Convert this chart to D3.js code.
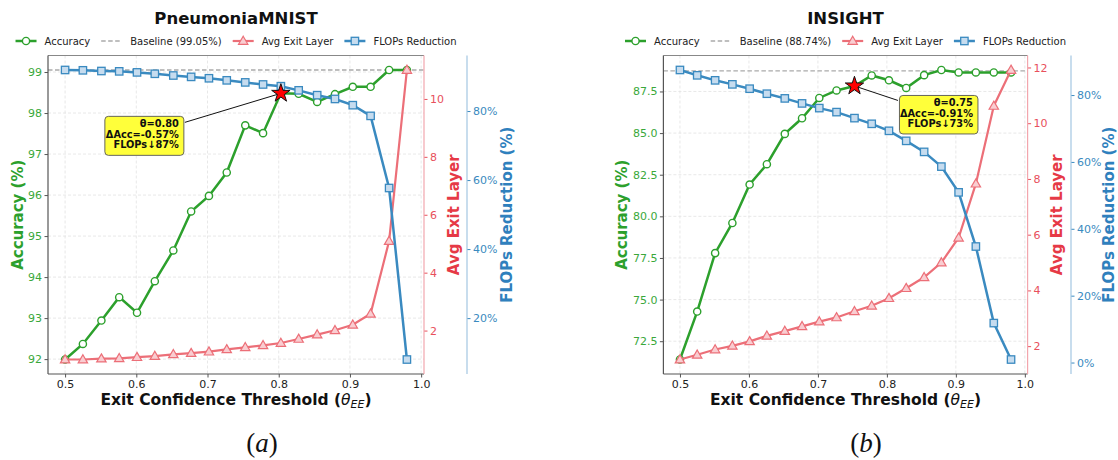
<!DOCTYPE html>
<html lang="en">
<head>
<meta charset="utf-8">
<title>Early exit threshold sweep</title>
<script src="https://cdn.jsdelivr.net/npm/d3@7"></script>
<style>
  body { margin: 0; background: #fff; }
  svg { display: block; font-family: "DejaVu Sans", sans-serif; }
</style>
</head>
<body>
<script>
// exit confidence thresholds (20 points, 0.5 .. 0.98)
var thresholds = [0.5, 0.525, 0.551, 0.576, 0.601, 0.626, 0.652, 0.677, 0.702, 0.727,
                  0.753, 0.778, 0.803, 0.828, 0.854, 0.879, 0.904, 0.929, 0.955, 0.98];

// PneumoniaMNIST
var pneuAcc   = [91.99, 92.37, 92.94, 93.51, 93.13, 93.90, 94.65, 95.60, 95.98, 96.55,
                 97.70, 97.51, 98.48, 98.47, 98.27, 98.46, 98.64, 98.64, 99.05, 99.05];
var pneuExit  = [1.00, 1.00, 1.03, 1.04, 1.08, 1.12, 1.18, 1.22, 1.27, 1.35,
                 1.42, 1.49, 1.57, 1.71, 1.86, 2.01, 2.20, 2.58, 5.09, 11.0];
var pneuFlops = [91.9, 91.8, 91.6, 91.5, 91.2, 90.8, 90.3, 89.9, 89.5, 88.9,
                 88.3, 87.7, 87.2, 86.0, 84.6, 83.5, 81.7, 78.6, 57.7, 8.0];
var pneuBaseline = 99.05;

// INSIGHT
var insAcc   = [71.40, 74.28, 77.79, 79.60, 81.91, 83.13, 84.95, 85.89, 87.11, 87.56,
                87.83, 88.46, 88.17, 87.71, 88.48, 88.79, 88.64, 88.64, 88.64, 88.64];
var insExit  = [1.52, 1.69, 1.88, 2.01, 2.17, 2.37, 2.54, 2.71, 2.88, 3.03,
                3.25, 3.45, 3.72, 4.08, 4.47, 5.00, 5.89, 7.83, 10.62, 11.91];
var insFlops = [87.5, 85.9, 84.4, 83.2, 81.9, 80.4, 79.0, 77.5, 76.1, 74.9,
                73.1, 71.4, 69.3, 66.3, 63.0, 58.6, 50.9, 34.7, 11.8, 0.9];
var insBaseline = 88.74;

// tick labels
var xTicks = [0.5, 0.6, 0.7, 0.8, 0.9, 1.0];
var pneuAccTicks = [92, 93, 94, 95, 96, 97, 98, 99];
var pneuExitTicks = [2, 4, 6, 8, 10];
var pneuFlopsTicks = [20, 40, 60, 80];
var insAccTicks = [72.5, 75.0, 77.5, 80.0, 82.5, 85.0, 87.5];
var insExitTicks = [2, 4, 6, 8, 10, 12];
var insFlopsTicks = [0, 20, 40, 60, 80];

var legendNames = ["Accuracy", "Baseline", "Avg Exit Layer", "FLOPs Reduction"];

var green = "#2ca02c", red = "#ec6f78", redDark = "#e63946", blue = "#3a8ac0";

var W = 1118, H = 460;
var svg = d3.select("body").append("svg").attr("width", W).attr("height", H);

// matplotlib style 5% margins
function padded(vals) {
  var lo = d3.min(vals), hi = d3.max(vals), m = (hi - lo) * 0.05;
  return [lo - m, hi + m];
}

function drawPanel(cfg) {
  var top = 55.5, bottom = 374;
  var g = svg.append("g");

  var x = d3.scaleLinear().domain(padded(thresholds)).range([cfg.left, cfg.right]);
  var yAcc = d3.scaleLinear().domain(padded(cfg.acc)).range([bottom, top]);
  var yExit = d3.scaleLinear().domain(padded(cfg.exit)).range([bottom, top]);
  var yFlops = d3.scaleLinear().domain(padded(cfg.flops)).range([bottom, top]);

  var pts = thresholds.map(function(t, i) {
    return { t: t, acc: cfg.acc[i], exit: cfg.exit[i], flops: cfg.flops[i] };
  });

  // grid
  g.selectAll(".gx").data(xTicks).enter().append("line")
    .attr("x1", function(d) { return x(d); }).attr("x2", function(d) { return x(d); })
    .attr("y1", top).attr("y2", bottom)
    .attr("stroke", "#e2e2e2").attr("stroke-width", 0.8).attr("stroke-dasharray", "3,2");
  g.selectAll(".gy").data(cfg.accTicks).enter().append("line")
    .attr("x1", cfg.left).attr("x2", cfg.right)
    .attr("y1", function(d) { return yAcc(d); }).attr("y2", function(d) { return yAcc(d); })
    .attr("stroke", "#e2e2e2").attr("stroke-width", 0.8).attr("stroke-dasharray", "3,2");

  // baseline
  g.append("line")
    .attr("x1", cfg.left).attr("x2", cfg.right)
    .attr("y1", yAcc(cfg.baseline)).attr("y2", yAcc(cfg.baseline))
    .attr("stroke", "#aaaaaa").attr("stroke-width", 1.3).attr("stroke-dasharray", "4.5,2.5");

  // accuracy
  g.append("path").datum(pts)
    .attr("fill", "none").attr("stroke", green).attr("stroke-width", 2.5)
    .attr("d", d3.line().x(function(d) { return x(d.t); }).y(function(d) { return yAcc(d.acc); }));
  g.selectAll(".mAcc").data(pts).enter().append("circle")
    .attr("cx", function(d) { return x(d.t); }).attr("cy", function(d) { return yAcc(d.acc); })
    .attr("r", 3.6).attr("fill", "#fff").attr("stroke", green).attr("stroke-width", 1.4);

  // avg exit layer
  var tri = d3.symbol().type(d3.symbolTriangle).size(38);
  g.append("path").datum(pts)
    .attr("fill", "none").attr("stroke", red).attr("stroke-width", 2.2)
    .attr("d", d3.line().x(function(d) { return x(d.t); }).y(function(d) { return yExit(d.exit); }));
  g.selectAll(".mExit").data(pts).enter().append("path")
    .attr("d", tri)
    .attr("transform", function(d) { return "translate(" + x(d.t) + "," + (yExit(d.exit) + 0.6) + ")"; })
    .attr("fill", "#f9cdd1").attr("stroke", red).attr("stroke-width", 1.2);

  // flops reduction
  g.append("path").datum(pts)
    .attr("fill", "none").attr("stroke", blue).attr("stroke-width", 2.5)
    .attr("d", d3.line().x(function(d) { return x(d.t); }).y(function(d) { return yFlops(d.flops); }));
  g.selectAll(".mFlops").data(pts).enter().append("rect")
    .attr("x", function(d) { return x(d.t) - 3.7; }).attr("y", function(d) { return yFlops(d.flops) - 3.7; })
    .attr("width", 7.4).attr("height", 7.4)
    .attr("fill", "#c6dcef").attr("stroke", blue).attr("stroke-width", 1.3);

  // axes
  var ax = g.append("g").attr("transform", "translate(0," + bottom + ")")
    .call(d3.axisBottom(x).tickValues(xTicks).tickFormat(d3.format(".1f")).tickSize(3.5).tickPadding(2.5).tickSizeOuter(0));
  ax.select(".domain").remove();
  ax.selectAll("line").attr("stroke", "#555");
  ax.selectAll("text").attr("font-size", "11px").attr("fill", "#222").attr("font-family", "DejaVu Sans");

  var ayA = g.append("g").attr("transform", "translate(" + cfg.left + ",0)")
    .call(d3.axisLeft(yAcc).tickValues(cfg.accTicks).tickFormat(d3.format(cfg.accFmt)).tickSize(3.5).tickPadding(2.5).tickSizeOuter(0));
  ayA.select(".domain").remove();
  ayA.selectAll("line").attr("stroke", "#555");
  ayA.selectAll("text").attr("font-size", "11px").attr("fill", "#3aa83a").attr("font-family", "DejaVu Sans");

  var ayE = g.append("g").attr("transform", "translate(" + cfg.right + ",0)")
    .call(d3.axisRight(yExit).tickValues(cfg.exitTicks).tickSize(3.5).tickPadding(2.5).tickSizeOuter(0));
  ayE.select(".domain").remove();
  ayE.selectAll("line").attr("stroke", "#e8505c");
  ayE.selectAll("text").attr("font-size", "11px").attr("fill", "#e8505c").attr("font-family", "DejaVu Sans");

  var ayF = g.append("g").attr("transform", "translate(" + cfg.flopsX + ",0)")
    .call(d3.axisRight(yFlops).tickValues(cfg.flopsTicks).tickFormat(function(d) { return d + "%"; })
      .tickSize(3.5).tickPadding(2.5).tickSizeOuter(0));
  ayF.select(".domain").remove();
  ayF.selectAll("line").attr("stroke", blue);
  ayF.selectAll("text").attr("font-size", "11px").attr("fill", blue).attr("font-family", "DejaVu Sans");

  // spines
  g.append("line").attr("x1", cfg.left).attr("x2", cfg.right).attr("y1", top).attr("y2", top)
    .attr("stroke", "#888").attr("stroke-width", 1.2);
  g.append("line").attr("x1", cfg.left).attr("x2", cfg.right).attr("y1", bottom).attr("y2", bottom)
    .attr("stroke", "#555").attr("stroke-width", 1.2);
  g.append("line").attr("x1", cfg.left).attr("x2", cfg.left).attr("y1", top).attr("y2", bottom)
    .attr("stroke", "#555").attr("stroke-width", 1.2);
  g.append("line").attr("x1", cfg.right).attr("x2", cfg.right).attr("y1", top).attr("y2", bottom)
    .attr("stroke", "#f2a6ad").attr("stroke-width", 1.2);
  g.append("line").attr("x1", cfg.flopsX).attr("x2", cfg.flopsX).attr("y1", top).attr("y2", bottom)
    .attr("stroke", "#a3c6e2").attr("stroke-width", 1.2);

  // axis labels
  var midY = (top + bottom) / 2;
  g.append("text").attr("transform", "translate(" + cfg.accLabelX + "," + midY + ") rotate(-90)")
    .attr("text-anchor", "middle").attr("dy", "0.36em")
    .attr("font-size", "15px").attr("font-weight", "bold").attr("fill", green).text("Accuracy (%)");
  g.append("text").attr("transform", "translate(" + cfg.exitLabelX + "," + midY + ") rotate(-90)")
    .attr("text-anchor", "middle").attr("dy", "0.36em")
    .attr("font-size", "15px").attr("font-weight", "bold").attr("fill", redDark).text("Avg Exit Layer");
  g.append("text").attr("transform", "translate(" + cfg.flopsLabelX + "," + midY + ") rotate(-90)")
    .attr("text-anchor", "middle").attr("dy", "0.36em")
    .attr("font-size", "15px").attr("font-weight", "bold").attr("fill", "#2f80bd").text("FLOPs Reduction (%)");

  var cx = (cfg.left + cfg.right) / 2;
  var xl = g.append("text").attr("x", cx).attr("y", 405).attr("text-anchor", "middle")
    .attr("font-size", "15.5px").attr("font-weight", "bold").attr("fill", "#111");
  xl.append("tspan").text("Exit Confidence Threshold (");
  xl.append("tspan").attr("font-style", "italic").attr("font-weight", "normal").text("\u03b8");
  xl.append("tspan").attr("font-style", "italic").attr("font-weight", "normal").attr("font-size", "11px").attr("dy", 3).text("EE");
  xl.append("tspan").attr("dy", -3).text(")");

  // title
  g.append("text").attr("x", cx).attr("y", 23.5).attr("text-anchor", "middle")
    .attr("font-size", "16.5px").attr("font-weight", "bold").attr("fill", "#111").text(cfg.title);

  // legend
  var leg = g.append("g");
  var labels = [legendNames[0], legendNames[1] + " (" + cfg.baseline.toFixed(2) + "%)", legendNames[2], legendNames[3]];
  var lx = 0, ly = 41;
  labels.forEach(function(lab, i) {
    var it = leg.append("g").attr("transform", "translate(" + lx + ",0)");
    var hl = it.append("line").attr("x1", 0).attr("x2", 21).attr("y1", ly).attr("y2", ly);
    if (i === 0) {
      hl.attr("stroke", green).attr("stroke-width", 2.5);
      it.append("circle").attr("cx", 10.5).attr("cy", ly).attr("r", 3.6)
        .attr("fill", "#fff").attr("stroke", green).attr("stroke-width", 1.4);
    } else if (i === 1) {
      hl.attr("stroke", "#aaa").attr("stroke-width", 1.3).attr("stroke-dasharray", "4.5,2.5");
    } else if (i === 2) {
      hl.attr("stroke", red).attr("stroke-width", 2.2);
      it.append("path").attr("d", tri).attr("transform", "translate(10.5," + (ly + 0.6) + ")")
        .attr("fill", "#f9cdd1").attr("stroke", red).attr("stroke-width", 1.2);
    } else {
      hl.attr("stroke", blue).attr("stroke-width", 2.5);
      it.append("rect").attr("x", 10.5 - 3.7).attr("y", ly - 3.7).attr("width", 7.4).attr("height", 7.4)
        .attr("fill", "#c6dcef").attr("stroke", blue).attr("stroke-width", 1.3);
    }
    var t = it.append("text").attr("x", 29).attr("y", ly).attr("dy", "0.36em")
      .attr("font-size", "10px").attr("fill", "#222").text(lab);
    lx += 29 + t.node().getComputedTextLength() + 11;
  });
  var legW = lx - 11;
  leg.attr("transform", "translate(" + (cx - legW / 2) + ",0)");

  // highlighted operating point
  var sp = pts[cfg.starIdx];
  var sx = x(sp.t), sy = yAcc(sp.acc);
  var box = cfg.box;
  g.append("line").attr("x1", sx).attr("y1", sy)
    .attr("x2", sx + box.lineDx).attr("y2", sy + box.lineDy)
    .attr("stroke", "#111").attr("stroke-width", 1);
  g.append("rect").attr("x", sx + box.dx).attr("y", sy + box.dy)
    .attr("width", box.w).attr("height", box.h).attr("rx", 3.5)
    .attr("fill", "#ffff3a").attr("stroke", "#555").attr("stroke-width", 0.9);
  cfg.note.forEach(function(s, i) {
    g.append("text").attr("x", sx + box.dx + box.w - 5).attr("y", sy + box.dy + 11 + i * 10.4)
      .attr("text-anchor", "end").attr("font-size", "9.8px").attr("font-weight", "bold")
      .attr("fill", "#111").text(s);
  });
  g.append("path").attr("d", d3.symbol().type(d3.symbolStar).size(105))
    .attr("transform", "translate(" + sx + "," + sy + ")")
    .attr("fill", "#ff0000").attr("stroke", "#111").attr("stroke-width", 1);
}

drawPanel({
  title: "PneumoniaMNIST", left: 48, right: 424, flopsX: 467,
  acc: pneuAcc, exit: pneuExit, flops: pneuFlops, baseline: pneuBaseline,
  accTicks: pneuAccTicks, accFmt: "d", exitTicks: pneuExitTicks, flopsTicks: pneuFlopsTicks,
  accLabelX: 17.5, exitLabelX: 453.5, flopsLabelX: 507,
  starIdx: 12, note: ["\u03b8=0.80", "\u0394Acc=-0.57%", "FLOPs\u219387%"],
  box: { dx: -176, dy: 23, w: 79, h: 39, lineDx: -96, lineDy: 29 }
});

drawPanel({
  title: "INSIGHT", left: 663.4, right: 1027.6, flopsX: 1071,
  acc: insAcc, exit: insExit, flops: insFlops, baseline: insBaseline,
  accTicks: insAccTicks, accFmt: ".1f", exitTicks: insExitTicks, flopsTicks: insFlopsTicks,
  accLabelX: 622, exitLabelX: 1057, flopsLabelX: 1108.5,
  starIdx: 10, note: ["\u03b8=0.75", "\u0394Acc=-0.91%", "FLOPs\u219373%"],
  box: { dx: 45, dy: 9.5, w: 78.5, h: 38.5, lineDx: 43.5, lineDy: 14.5 }
});

// sub-figure captions
[["a", 262], ["b", 866]].forEach(function(c) {
  var t = svg.append("text").attr("x", c[1]).attr("y", 452).attr("text-anchor", "middle")
    .attr("font-family", "Liberation Serif, serif").attr("font-size", "27px").attr("fill", "#111");
  t.append("tspan").text("(");
  t.append("tspan").attr("font-style", "italic").text(c[0]);
  t.append("tspan").text(")");
});
</script>
</body>
</html>
